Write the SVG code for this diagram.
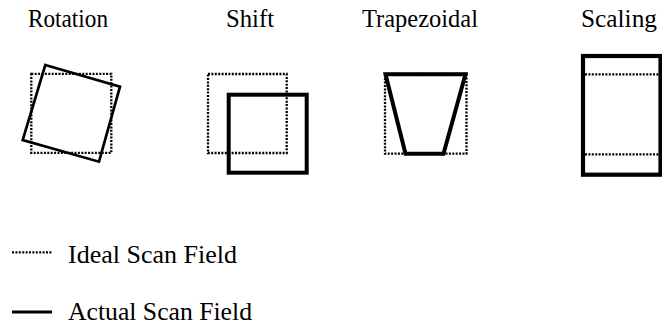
<svg xmlns="http://www.w3.org/2000/svg" width="662" height="327" viewBox="0 0 662 327">
  <style>
    .t { font-family: "Liberation Serif", "Times New Roman", "DejaVu Serif", serif; font-size: 25px; fill: #000; }
    .ideal { fill: none; stroke: #000; stroke-width: 2.3; stroke-dasharray: 2 1.4; }
    .actual { fill: none; stroke: #000; stroke-linejoin: miter; }
  </style>
  <rect width="662" height="327" fill="#fff"/>

  <g id="rotation">
    <text class="t" x="28" y="27" textLength="80" lengthAdjust="spacingAndGlyphs">Rotation</text>
    <rect class="ideal" x="31.3" y="73.8" width="80" height="79"/>
    <polygon class="actual" stroke-width="2.7" points="45.3,65 120,86.7 99,161.7 22.7,140"/>
  </g>

  <g id="shift">
    <text class="t" x="226" y="27" textLength="48" lengthAdjust="spacingAndGlyphs">Shift</text>
    <rect class="ideal" x="208" y="74" width="78.7" height="79"/>
    <rect class="actual" stroke-width="4" x="228.7" y="94.7" width="78" height="78"/>
  </g>

  <g id="trapezoidal">
    <text class="t" x="362" y="27" textLength="116" lengthAdjust="spacingAndGlyphs">Trapezoidal</text>
    <rect class="ideal" x="385" y="74" width="81.5" height="79.7"/>
    <polygon class="actual" stroke-width="4" points="385.5,74.3 465.5,74.3 443.5,153.7 405.5,153.7"/>
  </g>

  <g id="scaling">
    <text class="t" x="581" y="27" textLength="76" lengthAdjust="spacingAndGlyphs">Scaling</text>
    <line class="ideal" x1="585" y1="74.3" x2="660" y2="74.3"/>
    <line class="ideal" x1="585" y1="154.3" x2="660" y2="154.3"/>
    <rect class="actual" stroke-width="4.2" x="583" y="56" width="77.5" height="118.7"/>
  </g>

  <g id="legend">
    <line class="ideal" stroke-width="2" x1="12" y1="252.3" x2="52" y2="252.3"/>
    <text class="t" x="68" y="263.3" textLength="169" lengthAdjust="spacingAndGlyphs">Ideal Scan Field</text>
    <line class="actual" stroke-width="3" x1="12" y1="312" x2="52" y2="312"/>
    <text class="t" x="68" y="320" textLength="184" lengthAdjust="spacingAndGlyphs">Actual Scan Field</text>
  </g>
</svg>
